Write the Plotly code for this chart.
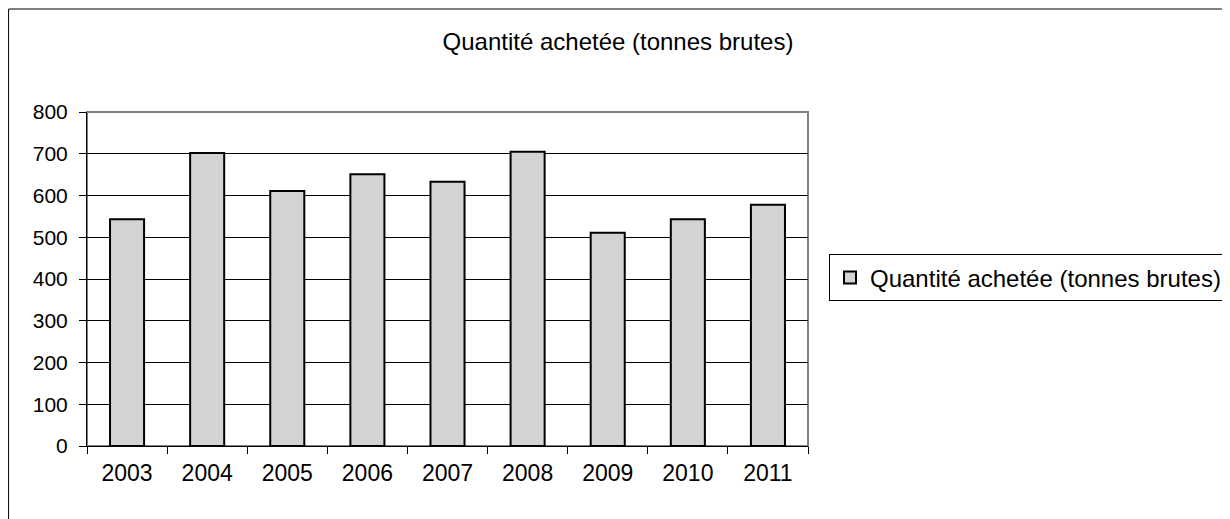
import plotly.graph_objects as go

# données
annees = ["2003", "2004", "2005", "2006", "2007", "2008", "2009", "2010", "2011"]
quantite = [543, 702, 611, 651, 633, 705, 511, 543, 578]
nom_serie = "Quantité achetée (tonnes brutes)"
titre = "Quantité achetée (tonnes brutes)"

W, H = 1230, 519
L, R, T, B = 79, 429, 104, 81
pw, ph = W - L - R, H - T - B

fig = go.Figure()
fig.add_trace(go.Bar(
    x=annees,
    y=quantite,
    name=nom_serie,
    marker=dict(color="#d3d3d3", line=dict(color="#000000", width=2)),
    showlegend=True,
))

# cadre extérieur du graphique
fig.add_shape(
    type="rect", xref="paper", yref="paper",
    x0=(0.5 - L) / pw, x1=(W + 20 - L) / pw,
    y0=-(B + 20) / ph, y1=(ph + T - 1) / ph,
    line=dict(color="#000000", width=1), layer="below",
)
# bordure grise de la zone de tracé
fig.add_shape(
    type="rect", xref="paper", yref="paper",
    x0=0, x1=1, y0=0, y1=1,
    line=dict(color="#808080", width=2), layer="below",
)

fig.update_layout(
    width=W, height=H,
    margin=dict(l=L, r=R, t=T, b=B),
    paper_bgcolor="white",
    plot_bgcolor="white",
    font=dict(family="Liberation Sans, Arial, sans-serif", size=21, color="#000000"),
    title=dict(text=titre, x=610 / W, xanchor="center", y=1 - 34 / H,
               yanchor="middle", yref="container",
               font=dict(size=24, color="#000000")),
    bargap=0.575,
    legend=dict(
        x=(821 - L) / pw, xanchor="left",
        y=0.503, yanchor="middle",
        bordercolor="#000000", borderwidth=1,
        font=dict(size=24),
        itemwidth=30,
        tracegroupgap=0,
    ),
)
fig.update_xaxes(
    type="category",
    showline=True, linecolor="#000000", linewidth=1,
    ticks="outside", tickson="boundaries", ticklen=7, tickcolor="#000000",
    tickfont=dict(size=23),
    ticklabelstandoff=6,
    showgrid=False,
)
fig.update_yaxes(
    range=[0, 800], dtick=100,
    showline=True, linecolor="#000000", linewidth=1,
    ticks="outside", ticklen=7, tickcolor="#000000",
    tickfont=dict(size=21),
    ticklabelstandoff=7,
    showgrid=True, gridcolor="#000000", gridwidth=1,
    zeroline=False,
)

fig.write_html("out.html")
